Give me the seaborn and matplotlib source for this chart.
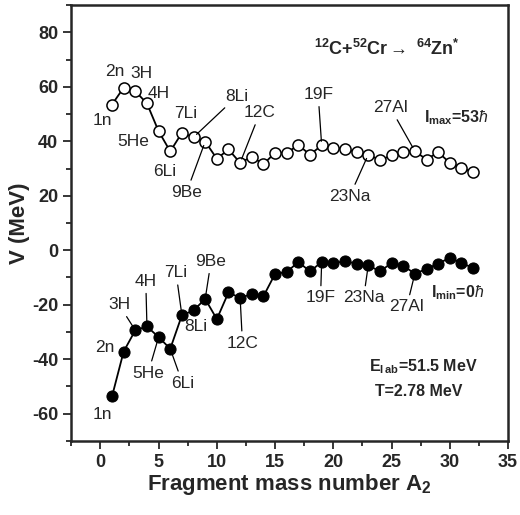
import matplotlib
matplotlib.use("Agg")
import matplotlib.pyplot as plt
import seaborn as sns
import pandas as pd
from matplotlib.ticker import MultipleLocator


# =====================
# Data
# =====================

mass = list(range(1, 33))

v_max = [53.5, 59.7, 58.4, 53.9, 43.7, 36.3, 43.1, 41.5, 39.9, 33.6,
         37.0, 32.1, 34.3, 31.6, 35.8, 35.8, 38.6, 35.1, 38.5, 37.6,
         37.2, 36.0, 35.1, 33.1, 34.8, 36.1, 36.4, 33.3, 36.0, 32.1,
         30.3, 28.6]

v_min = [-53.7, -37.2, -29.4, -28.0, -31.9, -36.2, -23.9, -22.1, -17.9, -25.3,
         -15.5, -17.5, -16.1, -16.9, -8.7, -8.0, -4.3, -7.8, -4.3, -4.7,
         -4.1, -4.9, -5.5, -7.8, -4.7, -5.7, -8.6, -6.9, -4.9, -2.8,
         -4.7, -6.5]

# fragment label, mass number, label position, leader line?
labels_max = [
    ("1n", 1, 0.2, 47.8, False),
    ("2n", 2, 1.2, 65.8, False),
    ("3H", 3, 3.5, 64.9, False),
    ("4H", 4, 5.05, 57.6, False),
    ("5He", 5, 2.85, 40.0, False),
    ("6Li", 6, 5.55, 29.0, False),
    ("7Li", 7, 7.3, 50.2, False),
    ("8Li", 8, 11.75, 56.6, True),
    ("9Be", 9, 7.4, 21.3, True),
    ("12C", 12, 13.7, 50.5, True),
    ("19F", 19, 18.7, 57.2, True),
    ("23Na", 23, 21.4, 19.8, True),
    ("27Al", 27, 24.9, 52.3, True),
]

labels_min = [
    ("1n", 1, 0.2, -60.2, False),
    ("2n", 2, 0.35, -35.9, False),
    ("3H", 3, 1.6, -20.0, True),
    ("4H", 4, 3.9, -11.4, True),
    ("5He", 5, 4.1, -45.1, True),
    ("6Li", 6, 7.05, -48.8, True),
    ("7Li", 7, 6.5, -8.3, True),
    ("8Li", 8, 8.2, -28.0, False),
    ("9Be", 9, 9.5, -4.1, True),
    ("12C", 12, 12.2, -34.1, True),
    ("19F", 19, 18.9, -17.5, True),
    ("23Na", 23, 22.6, -17.5, True),
    ("27Al", 27, 26.3, -20.8, True),
]

df = pd.DataFrame({
    "A": mass + mass,
    "V": v_max + v_min,
    "case": ["max"] * len(mass) + ["min"] * len(mass),
})


# =====================
# Style
# =====================

sns.set_style("ticks")

plt.rcParams["font.family"] = ["Liberation Sans", "DejaVu Sans"]
plt.rcParams["mathtext.fontset"] = "custom"
plt.rcParams["mathtext.rm"] = "Liberation Sans"
plt.rcParams["mathtext.it"] = "Liberation Sans:italic"
plt.rcParams["mathtext.bf"] = "Liberation Sans:bold"
plt.rcParams["axes.unicode_minus"] = False


fig = plt.figure(
    figsize=(5.2, 5.15),
    dpi=100
)

ax = fig.add_axes([0.137, 0.144, 0.840, 0.846])


# =====================
# Curves
# =====================

sns.lineplot(
    data=df[df["case"] == "max"],
    x="A",
    y="V",
    color="black",
    lw=1.3,
    marker="o",
    markersize=8,
    markerfacecolor="white",
    markeredgecolor="black",
    markeredgewidth=1.1,
    ax=ax
)

sns.lineplot(
    data=df[df["case"] == "min"],
    x="A",
    y="V",
    color="black",
    lw=1.3,
    marker="o",
    markersize=8,
    markerfacecolor="black",
    markeredgecolor="black",
    ax=ax
)


# =====================
# Labels
# =====================

def put_labels(items, values):
    for name, a, tx, ty, lead in items:
        if lead:
            ax.annotate(
                name,
                xy=(a, values[a - 1]),
                xytext=(tx, ty),
                ha="center",
                va="center",
                fontsize=12.5,
                arrowprops=dict(
                    arrowstyle="-",
                    lw=0.9,
                    color="black",
                    shrinkA=1,
                    shrinkB=3
                )
            )
        else:
            ax.text(tx, ty, name, ha="center", va="center", fontsize=12.5)


put_labels(labels_max, v_max)
put_labels(labels_min, v_min)


ax.text(24.6, 73.8,
        r"$^{\mathregular{12}}$C+$^{\mathregular{52}}$Cr$\rightarrow$ $^{\mathregular{64}}$Zn$^{\mathregular{*}}$",
        ha="center", va="center", fontsize=13, fontweight="bold")

ax.text(30.6, 48.6, r"I$_{\mathregular{max}}$=53$\hbar$",
        ha="center", va="center", fontsize=11.5, fontweight="bold")

ax.text(30.7, -15.7, r"I$_{\mathregular{min}}$=0$\hbar$",
        ha="center", va="center", fontsize=11.5, fontweight="bold")

ax.text(27.7, -42.7, r"E$_{\mathregular{l\,ab}}$=51.5 MeV",
        ha="center", va="center", fontsize=11.5, fontweight="bold")

ax.text(27.3, -51.9, "T=2.78 MeV",
        ha="center", va="center", fontsize=11.5, fontweight="bold")


# =====================
# Axes
# =====================

ax.set_xlim(-2.5, 35)
ax.set_ylim(-70, 90)

ax.xaxis.set_major_locator(MultipleLocator(5))
ax.xaxis.set_minor_locator(MultipleLocator(2.5))
ax.yaxis.set_major_locator(MultipleLocator(20))
ax.yaxis.set_minor_locator(MultipleLocator(10))

ax.tick_params(which="major", direction="out", length=6, width=1.3,
               labelsize=13, top=False, right=False)
ax.tick_params(which="minor", direction="out", length=3.5, width=1.3,
               top=False, right=False)

for lab in ax.get_xticklabels() + ax.get_yticklabels():
    lab.set_fontweight("bold")

for sp in ax.spines.values():
    sp.set_visible(True)
    sp.set_linewidth(1.8)

ax.set_xlabel(r"Fragment mass number A$_{\mathregular{2}}$",
              fontsize=16, fontweight="bold", labelpad=1)
ax.set_ylabel("V (MeV)", fontsize=16, fontweight="bold", labelpad=1)


fig.savefig("out.png", dpi=100)
